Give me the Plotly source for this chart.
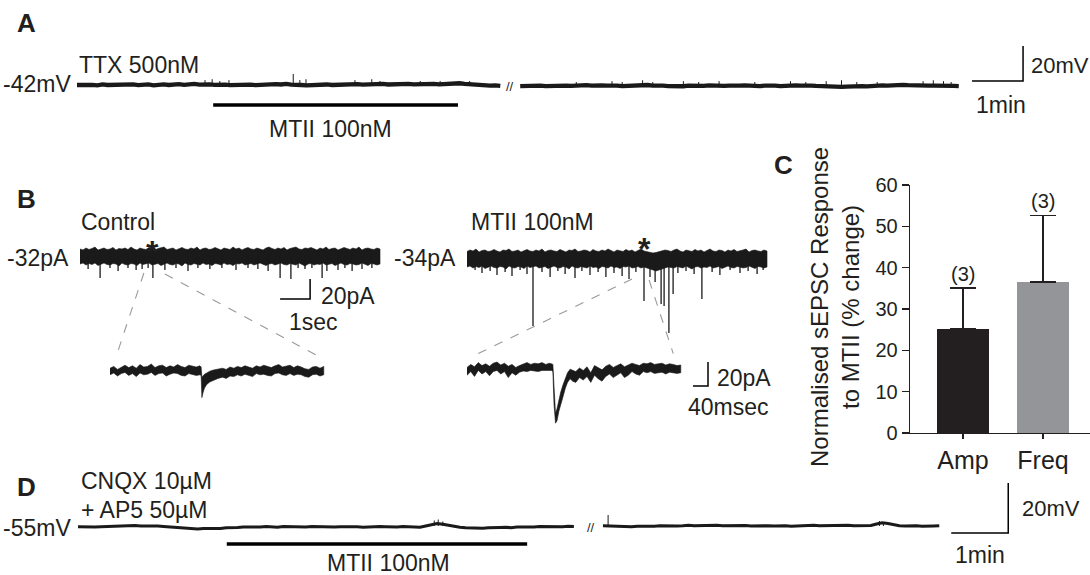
import plotly.graph_objects as go

W, H = 1090, 575
FONT = "Liberation Sans, Arial, Helvetica, sans-serif"

# ---------------- DATA ----------------
# Panel A: membrane potential (mV) sampled every 0.1 min, TTX 500nM
A_hold_mV = -42
A_step_min = 0.1
A_seg1_mV = [-42.0, -41.8, -42.1, -41.9, -42.2, -41.7, -42.0, -41.9, -42.3, -41.8,
             -42.0, -41.6, -42.1, -41.9, -41.7, -42.2, -41.8, -41.6, -42.0, -41.7,
             -41.5, -41.9, -41.6, -41.4, -41.8, -41.5, -41.7, -41.9, -41.6, -41.8,
             -42.1, -41.9, -42.2, -42.0, -41.8, -42.1, -41.9, -41.6, -41.8, -41.5,
             -41.7, -41.4, -41.8, -41.6, -42.0, -42.2, -42.0, -42.3, -41.9, -41.7,
             -42.0, -41.8, -41.6, -41.9, -41.7, -41.5, -41.8, -41.6, -41.9, -41.7,
             -41.4, -41.7, -41.5, -41.8, -41.6, -41.3, -41.6, -41.4, -41.7, -41.5,
             -41.3, -41.6, -41.4, -41.2, -41.5, -41.0, -41.3, -41.6, -42.0, -42.3,
             -42.1, -42.4, -42.2, -42.5]
A_seg2_mV = [-42.6, -42.4, -42.7, -42.5, -42.3, -42.6, -42.4, -42.7, -42.5, -42.3,
             -42.5, -42.2, -42.4, -42.1, -42.3, -42.0, -42.2, -42.4, -42.1, -42.3,
             -42.6, -42.4, -42.7, -42.5, -42.2, -42.0, -42.3, -42.1, -42.4, -42.6,
             -42.8, -42.5, -42.7, -42.4, -42.6, -42.3, -42.5, -42.2, -42.4, -42.6,
             -42.5, -42.3, -42.6, -42.4, -42.2, -42.5, -42.3, -42.6, -42.4, -42.2,
             -42.4, -42.6, -42.3, -42.5, -42.2, -42.4, -42.1, -42.3, -42.5, -42.7,
             -42.9, -43.0, -42.8, -43.1, -42.9, -42.7, -42.8, -42.6, -42.8, -42.5,
             -42.4, -42.2, -42.3, -42.0, -42.2, -41.9, -42.1, -42.3, -42.0, -42.2,
             -42.4, -42.3, -42.5, -42.4, -42.6, -42.5, -42.6]
A_seg1_event_min = [2.51, 2.65, 2.80, 2.98, 4.24, 4.37, 4.49, 5.45, 5.78, 5.94, 6.73, 7.12, 7.70]
A_seg1_event_mV = [2.5, 3.0, 2.0, 2.5, 6.0, 2.5, 3.0, 2.5, 3.0, 2.0, 2.0, 2.0, 2.0]
A_seg2_event_min = [1.1, 1.8, 2.0, 2.4, 2.6, 3.2, 3.5, 3.9, 4.6, 5.3, 5.6, 6.0, 6.3, 6.6, 7.0, 7.9, 8.1, 8.3, 8.45]
A_seg2_event_mV = [2.0, 2.5, 2.0, 3.0, 2.0, 2.5, 2.0, 2.5, 2.0, 2.5, 2.0, 2.5, 3.0, 2.0, 2.0, 2.5, 3.0, 2.5, 2.0]
A_mtii_min = [2.67, 7.47]          # MTII 100nM application (segment 1 time)

# Panel B: sEPSC recordings (pA), noise envelope every 0.1 s over 10 s
B_ctrl_hold_pA = -32
B_mtii_hold_pA = -34
B_step_s = 0.1
B_ctrl_upper = [7, 6, 8, 6.5, 7.5, 9, 6, 7, 8, 6.5, 7, 8.5, 6, 7.5, 7, 8, 6.5, 9, 7, 6,
                8, 7, 6.5, 8.5, 7, 6, 7.5, 8, 9, 6.5, 7, 8, 6, 7.5, 8.5, 7, 6.5, 8, 7, 9,
                6, 7.5, 8, 6.5, 7, 8.5, 7, 6, 8, 7.5, 6.5, 9, 7, 8, 6, 7.5, 8.5, 7, 6.5, 8,
                7, 6, 8, 9, 7.5, 6.5, 8, 7, 8.5, 6, 7.5, 8, 9, 7, 6.5, 8, 7.5, 8.5, 7, 6,
                8, 7, 9, 6.5, 7.5, 8, 6, 7, 8.5, 7.5, 6.5, 8, 7, 9, 6, 7.5, 8, 7, 6.5, 8, 7]
B_ctrl_lower = [-8, -7, -9, -7.5, -8.5, -7, -9.5, -8, -7, -8.5, -9, -7.5, -8, -10, -7, -8.5, -9, -7.5, -8, -9.5,
                -7, -8.5, -8, -7, -9, -8, -7.5, -9.5, -8, -7, -8.5, -9, -7.5, -8, -10, -7, -8.5, -9, -7.5, -8,
                -9, -7, -8.5, -8, -9.5, -7.5, -8, -9, -7, -8.5, -8, -9.5, -7.5, -8, -7, -9, -8.5, -7.5, -9, -8,
                -7, -8.5, -9.5, -8, -7.5, -9, -8, -7, -8.5, -9, -7.5, -8, -9, -7, -8.5, -10, -8, -7.5, -9, -8,
                -8.5, -7, -9, -8, -7.5, -9.5, -8, -7, -8.5, -9, -7.5, -8, -9, -8.5, -7, -8, -9.5, -7.5, -8, -9, -8]
B_ctrl_event_s = [0.67, 2.43, 6.67, 7.03, 7.27, 8.07, 8.23,
                  0.27, 1.0, 1.27, 1.6, 1.87, 2.07, 2.27, 2.83, 3.2, 3.6, 3.93, 4.33, 4.73, 5.2,
                  5.6, 5.93, 6.27, 7.5, 7.73, 8.6, 8.83, 9.07, 9.4, 9.73]
B_ctrl_event_pA = [22, 22, 22, 23, 12, 22, 15,
                   13, 12, 15, 12, 14, 13, 12, 14, 12, 15, 12, 13, 12, 14,
                   12, 13, 15, 13, 12, 14, 12, 15, 13, 12]
B_mtii_upper = [6.5, 8, 7, 9, 6, 7.5, 8, 6.5, 7, 8.5, 7, 6, 8, 7.5, 9, 6.5, 7, 8, 6, 7.5,
                8.5, 7, 6.5, 8, 7, 9, 6, 7.5, 8, 7, 6.5, 8.5, 7, 6, 8, 7.5, 9, 6.5, 7, 8,
                7.5, 6, 8.5, 7, 6.5, 8, 7, 9, 7.5, 6, 8, 7, 6.5, 8.5, 7, 8, 6, 7.5, 9, 7,
                6.5, 6, 5, 5.5, 6.5, 7, 8, 7.5, 6.5, 8, 9, 7, 6, 8, 7.5, 6.5, 8.5, 7, 8, 6,
                7.5, 9, 7, 6.5, 8, 7.5, 6, 8, 7, 8.5, 6.5, 7, 8, 9, 6, 7.5, 8, 7, 6.5, 8, 7]
B_mtii_lower = [-9, -8, -10, -8.5, -9.5, -8, -10.5, -9, -8, -9.5, -10, -8.5, -9, -11, -8, -9.5, -10, -8.5, -9, -10.5,
                -8, -9.5, -9, -8, -10, -9, -8.5, -10.5, -9, -8, -9.5, -10, -8.5, -9, -11, -8, -9.5, -10, -8.5, -9,
                -10, -8, -9.5, -9, -10.5, -8.5, -9, -10, -8, -9.5, -9, -10.5, -8.5, -9, -8, -10, -9.5, -8.5, -10, -9,
                -10, -11, -12, -13, -12, -11, -10, -9, -9.5, -10, -8.5, -9, -10, -8, -9.5, -11, -9, -8.5, -10, -9,
                -9.5, -8, -10, -9, -8.5, -10.5, -9, -8, -9.5, -10, -8.5, -9, -10, -9.5, -8, -9, -10.5, -8.5, -9, -10, -9]
B_mtii_event_s = [2.2, 5.9, 6.47, 6.57, 6.73, 6.87, 7.83,
                  0.27, 0.5, 0.77, 1.0, 1.27, 1.5, 1.77, 2.0, 2.5, 2.77, 3.03, 3.27, 3.6, 3.83, 4.1, 4.37,
                  4.63, 4.9, 5.17, 5.4, 5.63, 6.1, 6.27, 7.03, 7.3, 7.57, 8.17, 8.43, 8.77, 9.1, 9.37, 9.67, 9.87]
B_mtii_event_pA = [68, 43, 46, 48, 75, 36, 41,
                   12, 15, 13, 17, 14, 18, 12, 16, 14, 19, 13, 16, 20, 13, 17, 14,
                   19, 15, 18, 21, 14, 19, 24, 15, 13, 16, 14, 17, 12, 15, 13, 16, 12]
B_ctrl_star_s = 2.43
B_mtii_star_s = 5.9

# Expanded sEPSCs (ms, pA relative to holding current)
B_ctrl_inset_ms = [0, 10, 20, 30, 40, 50, 60, 70, 80, 90, 100, 110, 120, 130, 140, 150, 160, 170, 180, 190,
                   200, 210, 220, 230, 240,
                   243, 245, 248, 252, 258, 266, 276, 288,
                   300, 310, 320, 330, 340, 350, 360, 370, 380, 390, 400, 410, 420, 430, 440, 450,
                   460, 470, 480, 490, 500, 510, 520, 530, 540, 550, 560, 570]
B_ctrl_inset_upper = [1.5, 3, 0.5, 2.5, 4, 2, 3.5, 1.5, 4.5, 2.5, 3, 5, 2, 3.5, 4, 2, 3.5, 2.5, 4.5, 3,
                      2, 4, 3, 2.5, 3.5,
                      2.5, -6, -5, -3.5, -2.5, -1, 0, 1,
                      1.5, 0.5, 2.5, 1.5, 3, 2, 3.5, 2.5, 1.5, 3.5, 2.5, 4, 3, 2, 3.5, 4.5,
                      2.5, 3, 4, 2, 3.5, 2.5, 1, 0.5, 2.5, 3, 1.5, 3]
B_ctrl_inset_lower = [-4, -2.5, -5, -3, -2, -4.5, -3, -5.5, -2.5, -4, -3.5, -2, -4.5, -3, -2.5, -5, -3.5, -2.5,
                      -3, -4.5, -5, -3, -3.5, -4.5, -4,
                      -4.5, -23, -19, -15, -12, -10, -8.5, -7,
                      -6, -7, -5, -5.5, -4, -5, -3.5, -4.5, -5.5, -3, -4, -3.5, -4.5, -5, -3, -2.5,
                      -4, -4.5, -3, -4.5, -3.5, -4, -5.5, -6, -4, -3.5, -5, -4]
B_mtii_inset_ms = [0, 10, 20, 30, 40, 50, 60, 70, 80, 90, 100, 110, 120, 130, 140, 150, 160, 170, 180, 190,
                   200, 210, 220,
                   225, 229, 232, 236, 240, 245, 250, 256, 262, 268, 275, 282,
                   290, 300, 310, 320, 330, 340, 350, 360, 370, 380, 390, 400, 410, 420, 430, 440,
                   450, 460, 470, 480, 490, 500, 510, 520, 530, 540, 550, 560, 570]
B_mtii_inset_upper = [0.5, 3, 1, 4.5, 2, 3.5, 1.5, 4, 5, 2.5, 4, 1.5, 3, 0.5, 2, 3.5, 4.5, 3, 4, 3.5,
                      4.5, 3, 4,
                      3.5, 3, -15, -38, -34, -26, -20, -14, -8, -4, -1, -2,
                      -3, 0, -2, 1, -4, 2, 0, -1.5, 1.5, 3, 0.5, 2, 3.5, 1, 2.5, 4,
                      3, 2, 4, 3.5, 4.5, 3, 3.5, 4, 2.5, 3.5, 3, 2, 2.5]
B_mtii_inset_lower = [-6, -3, -7, -2, -5, -3, -6.5, -3, -2, -5, -3, -8, -4, -6, -3.5, -2.5, -3, -2, -2.5, -3,
                      -2, -2.5, -2,
                      -2, -3, -30, -46, -44, -36, -30, -24, -17, -12, -9, -11,
                      -12, -8, -10, -7, -12, -6, -9, -11, -7, -5, -8, -6, -4, -8, -6, -3,
                      -5, -6, -3, -4, -3, -4.5, -4, -3.5, -5, -3.5, -4, -4.5, -4]

# Panel C: normalised sEPSC response (% change)
C_categories = ["Amp", "Freq"]
C_mean = [25.2, 36.5]
C_sem = [9.9, 16.2]
C_n = [3, 3]
C_colors = ["#231f20", "#939598"]

# Panel D: membrane potential (mV) sampled every 0.1 min, CNQX + AP5
D_hold_mV = -55
D_step_min = 0.1
D_seg1_mV = [-54.9, -55.0, -54.8, -55.0, -54.9, -54.8, -55.0,
             -54.7, -54.5, -54.6, -54.4, -54.6, -54.5, -54.7, -54.6, -54.8, -55.0, -55.2,
             -55.4, -55.6, -55.5, -55.8, -55.6, -55.7, -55.5, -55.6, -55.3, -55.4, -55.2, -55.0, -55.1,
             -54.9, -55.0, -54.8, -54.9, -55.1, -54.8, -54.9, -54.7, -54.9, -55.0,
             -54.8, -54.9, -54.7, -54.8, -55.0, -54.9, -54.8, -55.0, -54.9, -55.1,
             -54.9, -55.0, -54.8, -54.9, -55.1, -55.0, -54.8, -55.0, -54.9, -55.1,
             -54.6, -54.2, -53.6, -53.9, -54.4, -54.8, -55.1,
             -55.3, -55.4, -55.2, -55.5, -55.3, -55.4, -55.2, -55.1, -55.3, -55.0,
             -55.1, -54.9, -55.0, -54.8, -54.9, -55.0, -54.8, -54.9, -54.7, -54.8]
D_seg2_mV = [-54.5, -54.6, -54.9, -55.0, -54.8, -54.9, -54.7, -54.8, -54.6, -54.7,
             -54.5, -54.6, -54.4, -54.6, -54.5, -54.3, -54.5, -54.4, -54.6, -54.5,
             -54.3, -54.5, -54.4, -54.6, -54.5, -54.4, -54.6, -54.5, -54.7, -54.5,
             -54.6, -54.4, -54.5, -54.7, -54.6, -54.4, -54.5, -54.3, -54.5, -54.4,
             -54.6, -54.5, -54.4, -54.3, -54.5, -54.4, -54.2, -54.4, -53.8, -53.3,
             -53.6, -54.2, -54.5, -54.6, -54.4, -54.5, -54.7, -54.5, -54.6, -54.5]
D_seg1_event_min = [6.25, 6.32, 6.4]
D_seg1_event_mV = [2.2, 2.6, 1.8]
D_seg2_event_min = [0.09, 4.85, 4.92]
D_seg2_event_mV = [4.4, 2.0, 1.6]
D_mtii_min = [2.61, 7.88]

# ---------------- LAYOUT HELPERS ----------------
fig = go.Figure()
AX = {}


def fx(px):
    return px / W


def fy(py):
    return 1 - py / H


def make_axes(n, box, xmap, ymap):
    """box=(px0,px1,py0,py1) in pixels; xmap=(anchor_px, value, px_per_unit); ymap likewise (y grows down)."""
    px0, px1, py0, py1 = box
    xr = [xmap[1] + (px0 - xmap[0]) / xmap[2], xmap[1] + (px1 - xmap[0]) / xmap[2]]
    yr = [ymap[1] - (py1 - ymap[0]) / ymap[2], ymap[1] - (py0 - ymap[0]) / ymap[2]]
    sfx = "" if n == 1 else str(n)
    fig.layout["xaxis" + sfx] = dict(domain=[fx(px0), fx(px1)], range=xr, visible=False,
                                     anchor="y" + sfx, fixedrange=True, automargin=False)
    fig.layout["yaxis" + sfx] = dict(domain=[fy(py1), fy(py0)], range=yr, visible=False,
                                     anchor="x" + sfx, fixedrange=True, automargin=False)
    AX[n] = (box, xr, yr)
    return "x" + sfx, "y" + sfx


def to_paper(n, x, y):
    (px0, px1, py0, py1), xr, yr = AX[n]
    px = px0 + (x - xr[0]) / (xr[1] - xr[0]) * (px1 - px0)
    py = py1 - (y - yr[0]) / (yr[1] - yr[0]) * (py1 - py0)
    return fx(px), fy(py)


def line(xa, ya, xs, ys, width, color="black"):
    fig.add_trace(go.Scatter(x=xs, y=ys, mode="lines", xaxis=xa, yaxis=ya, hoverinfo="skip",
                             line=dict(color=color, width=width)))


def events(xa, ya, t, amp, base, offset, width):
    xs, ys = [], []
    for ti, ai in zip(t, amp):
        xs += [ti + offset, ti + offset, None]
        ys += [base, base + ai, None]
    line(xa, ya, xs, ys, width, "#1a1a1a")


def band(xa, ya, t, up, lo, base, offset, lw=0.8):
    xs = [ti + offset for ti in t] + [ti + offset for ti in t[::-1]]
    ys = [base + u for u in up] + [base + l for l in lo[::-1]]
    fig.add_trace(go.Scatter(x=xs, y=ys, mode="lines", fill="toself", fillcolor="#1a1a1a",
                             xaxis=xa, yaxis=ya, hoverinfo="skip",
                             line=dict(color="#1a1a1a", width=lw)))


annots = []
TXT = "#231f20"


def text(s, px, py, size=23, xanchor="left", bold=False):
    annots.append(dict(text=("<b>%s</b>" % s) if bold else s, x=fx(px), y=fy(py),
                       xref="paper", yref="paper", xanchor=xanchor, yanchor="middle",
                       showarrow=False, font=dict(family=FONT, size=size, color=TXT)))


# ---------------- PANEL A ----------------
xa, ya = make_axes(1, (0, W, 0, 150), (77, 0.0, 51.0), (85, A_hold_mV, 1.75))
A_seg2_offset = 8.69
tA1 = [i * A_step_min for i in range(len(A_seg1_mV))]
tA2 = [A_seg2_offset + i * A_step_min for i in range(len(A_seg2_mV))]
line(xa, ya, tA1, A_seg1_mV, 4.3, "#1a1a1a")
line(xa, ya, tA2, A_seg2_mV, 4.3, "#1a1a1a")
events(xa, ya, A_seg1_event_min, A_seg1_event_mV, A_hold_mV + 0.3, 0, 1.0)
events(xa, ya, A_seg2_event_min, A_seg2_event_mV, A_hold_mV - 0.3, A_seg2_offset, 1.0)
line(xa, ya, A_mtii_min, [-53.4, -53.4], 3.5)
sbx, sby = 17.55, -39.7        # scale bar 1 min / 20 mV
line(xa, ya, [sbx, sbx + 1, sbx + 1], [sby, sby, sby + 20], 1.5)
text("A", 26, 23, 26, "center", True)
text("TTX 500nM", 77, 65)
text("-42mV", 73, 84, xanchor="right")
text("//", 510, 86, 13, "center")
text("MTII 100nM", 330, 129, xanchor="center")
text("20mV", 1029, 65, 22)
text("1min", 1001, 105, 23, "center")

# ---------------- PANEL B ----------------
xb, yb = make_axes(2, (0, 800, 195, 345), (80, 0.0, 30.0), (256, B_ctrl_hold_pA, 1.0))
B_mtii_offset = 12.9
tB = [i * B_step_s for i in range(len(B_ctrl_upper))]
band(xb, yb, tB, B_ctrl_upper, B_ctrl_lower, B_ctrl_hold_pA, 0, 0.6)
events(xb, yb, B_ctrl_event_s, [-a for a in B_ctrl_event_pA], B_ctrl_hold_pA, 0, 1.3)
band(xb, yb, tB, B_mtii_upper, B_mtii_lower, B_mtii_hold_pA, B_mtii_offset, 0.6)
events(xb, yb, B_mtii_event_s, [-a for a in B_mtii_event_pA], B_mtii_hold_pA, B_mtii_offset, 1.3)
line(xb, yb, [6.67, 7.67, 7.67], [-75, -75, -55], 1.5)      # scale bar 1 s / 20 pA

xc, yc = make_axes(3, (100, 340, 340, 420), (110, 0.0, 0.375), (370, 0.0, 1.2))
band(xc, yc, B_ctrl_inset_ms, B_ctrl_inset_upper, B_ctrl_inset_lower, 0, 0, 0.6)
xd, yd = make_axes(4, (455, 790, 340, 440), (467, 0.0, 0.375), (368, 0.0, 1.2))
band(xd, yd, B_mtii_inset_ms, B_mtii_inset_upper, B_mtii_inset_lower, 0, 0, 0.6)
line(xd, yd, [602.7, 642.7, 642.7], [-15, -15, 5], 1.5)      # scale bar 40 ms / 20 pA

shapes = []


def guide(p0, p1):
    shapes.append(dict(type="line", xref="paper", yref="paper", x0=p0[0], y0=p0[1], x1=p1[0], y1=p1[1],
                       line=dict(color="#9a9a9a", width=1.1, dash="dash")))


guide(to_paper(2, 2.13, -49), to_paper(3, 15, 10))
guide(to_paper(2, 2.83, -50), to_paper(3, 565, 10))
guide(to_paper(2, B_mtii_offset + 5.5, -55), to_paper(4, 30, 12))
guide(to_paper(2, B_mtii_offset + 6.07, -56), to_paper(4, 550, 12))

text("B", 26, 199, 26, "center", True)
text("Control", 79, 222)
text("-32pA", 71, 258, xanchor="right")
text("20pA", 319, 296)
text("1sec", 287, 322)
text("MTII 100nM", 469, 222)
text("-34pA", 458, 258, xanchor="right")
text("20pA", 715, 378)
text("40msec", 686, 407)
for t_star, off, lvl in ((B_ctrl_star_s, 0, -28), (B_mtii_star_s, B_mtii_offset, -25)):
    sx, sy = to_paper(2, t_star + off, lvl)
    annots.append(dict(text="<b>*</b>", x=sx, y=sy, xref="paper", yref="paper", showarrow=False,
                       xanchor="center", yanchor="middle", font=dict(family=FONT, size=32, color=TXT)))

# ---------------- PANEL C ----------------
fig.add_trace(go.Bar(x=C_categories, y=C_mean, xaxis="x5", yaxis="y5", width=0.65,
                     marker=dict(color=C_colors, line=dict(width=0)),
                     error_y=dict(type="data", symmetric=False, array=C_sem, arrayminus=[0, 0],
                                  color=TXT, thickness=1.3, width=13),
                     hoverinfo="skip"))
fig.layout["xaxis5"] = dict(domain=[fx(910), 1.0], range=[(910 - 963) / 80, (W - 963) / 80], anchor="y5",
                            showline=True, linecolor=TXT, linewidth=1.3, ticks="outside",
                            ticklen=5, tickwidth=1.3, tickcolor=TXT, showgrid=False, automargin=False,
                            tickfont=dict(family=FONT, size=25, color=TXT), fixedrange=True)
fig.layout["yaxis5"] = dict(domain=[fy(433), fy(185)], range=[0, 60], dtick=10, anchor="x5",
                            showline=True, linecolor=TXT, linewidth=1.3, ticks="outside",
                            ticklen=7, tickwidth=1.3, tickcolor=TXT, showgrid=False, automargin=False,
                            zeroline=False, tickfont=dict(family=FONT, size=20, color=TXT),
                            fixedrange=True)
for c, m, s, n in zip(C_categories, C_mean, C_sem, C_n):
    annots.append(dict(text="(%d)" % n, x=c, y=m + s, xref="x5", yref="y5", showarrow=False,
                       xanchor="center", yanchor="bottom", yshift=1,
                       font=dict(family=FONT, size=20, color=TXT)))
text("C", 783, 165, 26, "center", True)
annots.append(dict(text="Normalised sEPSC Response<br>to MTII (% change)", x=fx(835), y=fy(307),
                   xref="paper", yref="paper", showarrow=False, textangle=-90,
                   xanchor="center", yanchor="middle",
                   font=dict(family=FONT, size=24, color=TXT)))

# ---------------- PANEL D ----------------
xe, ye = make_axes(6, (0, W, 465, H), (78, 0.0, 57.0), (527, D_hold_mV, 2.5))
D_seg2_offset = 9.21
tD1 = [i * D_step_min for i in range(len(D_seg1_mV))]
tD2 = [D_seg2_offset + i * D_step_min for i in range(len(D_seg2_mV))]
line(xe, ye, tD1, D_seg1_mV, 3.2, "#1a1a1a")
line(xe, ye, tD2, D_seg2_mV, 3.2, "#1a1a1a")
events(xe, ye, D_seg1_event_min, D_seg1_event_mV, D_hold_mV + 0.4, 0, 1.0)
events(xe, ye, D_seg2_event_min, D_seg2_event_mV, -54.6, D_seg2_offset, 1.0)
line(xe, ye, D_mtii_min, [-61.8, -61.8], 3.5)
line(xe, ye, [15.32, 16.32, 16.32], [-57.4, -57.4, -37.4], 1.5)   # scale bar 1 min / 20 mV
text("D", 26, 487, 26, "center", True)
text("CNQX 10µM", 79, 481)
text("+ AP5 50µM", 79, 510)
text("-55mV", 73, 528, xanchor="right")
text("//", 591, 527, 13, "center")
text("MTII 100nM", 388, 563, xanchor="center")
text("20mV", 1020, 508, 22)
text("1min", 980, 555, 23, "center")

fig.update_layout(template="none", width=W, height=H,
                  margin=dict(l=0, r=0, t=0, b=0, pad=0, autoexpand=False), showlegend=False,
                  plot_bgcolor="white", paper_bgcolor="white", annotations=annots, shapes=shapes,
                  bargap=0)
fig.write_html("out.html", config={"displayModeBar": False, "staticPlot": True},
               post_script="document.body.style.margin='0px';document.body.style.overflow='hidden';")
